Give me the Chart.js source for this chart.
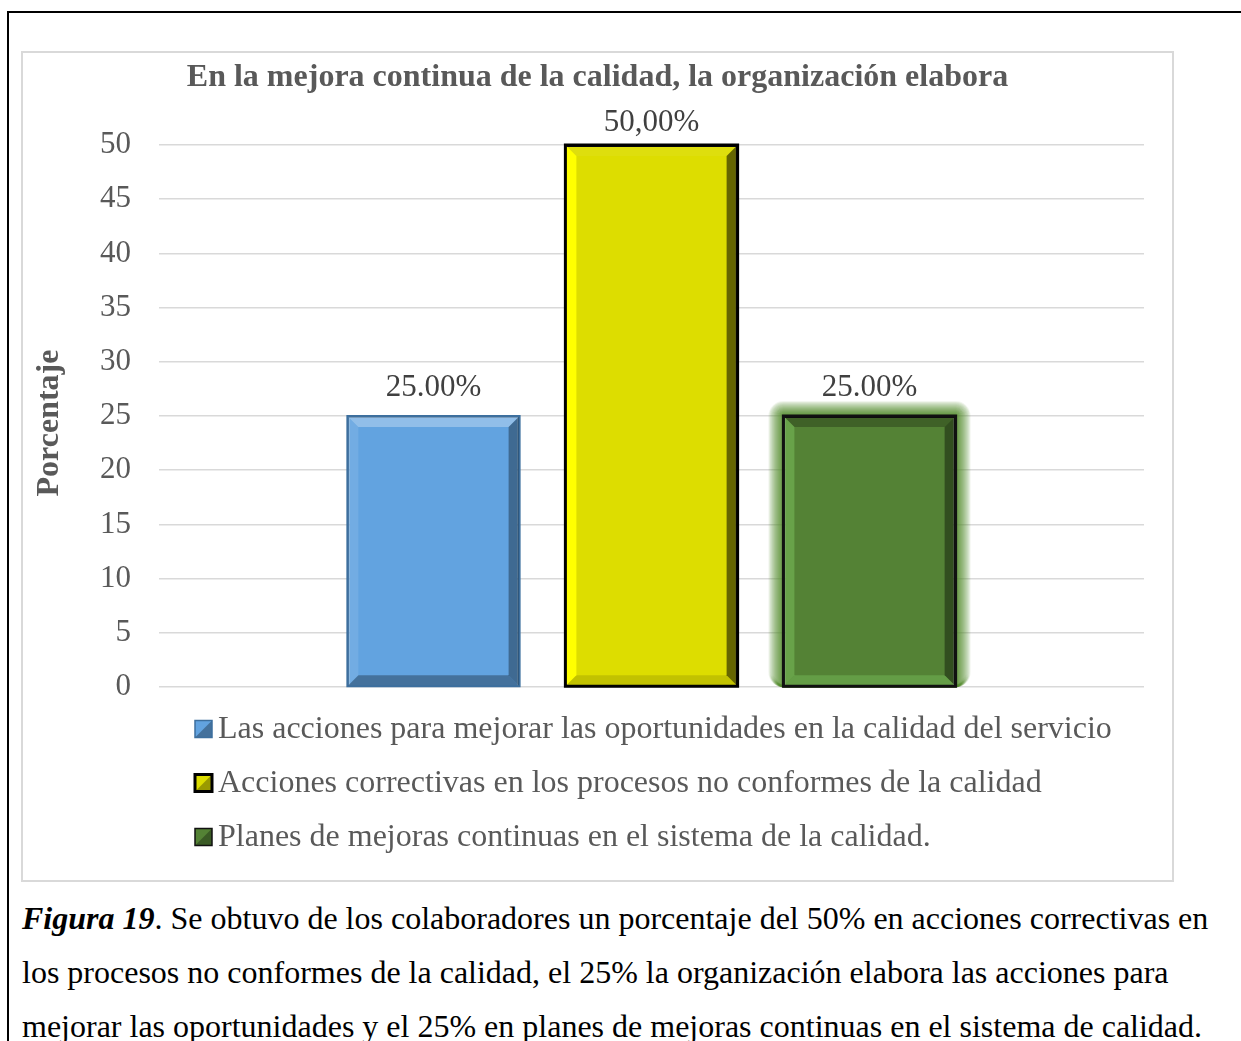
<!DOCTYPE html>
<html>
<head>
<meta charset="utf-8">
<script src="https://cdn.jsdelivr.net/npm/chart.js@4.4.0/dist/chart.umd.min.js"></script>
<style>
  body { margin: 0; background: #fff; width: 1241px; height: 1041px; overflow: hidden; position: relative; font-family: "Liberation Serif", serif; }
  #frame { position: absolute; left: 7px; top: 11px; width: 1300px; height: 1100px; border-left: 2px solid #000; border-top: 2px solid #000; }
  #box { position: absolute; left: 21px; top: 51px; width: 1149px; height: 827px; border: 2px solid #d9d9d9; }
  #box canvas { position: absolute; left: 0; top: 0; }
  #caption { position: absolute; left: 22px; top: 891px; font-size: 32px; line-height: 54px; color: #000; white-space: nowrap; }
</style>
</head>
<body>
<div id="frame"></div>
<div id="box"><canvas id="grafico" width="1149" height="827"></canvas></div>
<div id="caption"><b><i>Figura 19</i></b>. Se obtuvo de los colaboradores un porcentaje del 50% en acciones correctivas en<br>los procesos no conformes de la calidad, el 25% la organización elabora las acciones para<br>mejorar las oportunidades y el 25% en planes de mejoras continuas en el sistema de calidad.</div>
<script>
const titulo = "En la mejora continua de la calidad, la organización elabora";
const ejeY = "Porcentaje";
const categorias = [""];
const series = [
  "Las acciones para mejorar las oportunidades en la calidad del servicio",
  "Acciones correctivas en los procesos no conformes de la calidad",
  "Planes de mejoras continuas en el sistema de la calidad."
];
const valores = [25, 50, 25];
const etiquetas = ["25.00%", "50,00%", "25.00%"];

const rellenos = ["#62a3e0", "#dddd00", "#548235"];
const bordes = ["#3d6f9e", "#000000", "#111111"];
// bevel colours: top, left, right, bottom
const biseles = [
  ["rgba(255,255,255,0.30)", "rgba(255,255,255,0.10)", "rgba(0,0,0,0.35)", "rgba(0,0,0,0.30)"],
  ["rgba(255,255,255,0.05)", "rgba(255,255,0,1)", "rgba(60,60,0,0.75)", "rgba(0,0,0,0.12)"],
  ["rgba(0,0,0,0.25)", "rgba(120,190,90,0.55)", "rgba(0,0,0,0.40)", "rgba(120,190,90,0.45)"]
];
const separacion = [20, 14, 20];

const fuente = "'Liberation Serif', 'Times New Roman', serif";

const caja = (bar) => ({
  l: bar.x - bar.width / 2,
  r: bar.x + bar.width / 2,
  t: bar.y,
  b: bar.base
});

const bisel = {
  id: "bisel",
  beforeDatasetDraw(chart, args) {
    if (args.index !== 2) return;
    // soft green glow around the last bar
    const ctx = chart.ctx;
    ctx.save();
    args.meta.data.forEach((bar) => {
      const k = caja(bar);
      for (let g = 14; g >= 1; g--) {
        ctx.strokeStyle = "rgba(84,140,45," + (0.08 + (14 - g) * 0.045) + ")";
        ctx.lineWidth = 2;
        ctx.beginPath();
        ctx.roundRect(k.l - g, k.t - g, k.r - k.l + 2 * g, k.b - k.t + g, g);
        ctx.stroke();
      }
    });
    ctx.restore();
  },
  afterDatasetDraw(chart, args) {
    const ctx = chart.ctx;
    const i = args.index;
    args.meta.data.forEach((bar) => {
      const { l, r, t, b } = caja(bar);
      const s = 11;
      const c = biseles[i];
      const poly = (pts, col) => {
        ctx.beginPath();
        ctx.moveTo(pts[0][0], pts[0][1]);
        pts.slice(1).forEach((p) => ctx.lineTo(p[0], p[1]));
        ctx.closePath();
        ctx.fillStyle = col;
        ctx.fill();
      };
      ctx.save();
      poly([[l, t], [r, t], [r - s, t + s], [l + s, t + s]], c[0]);
      poly([[l, t], [l + s, t + s], [l + s, b - s], [l, b]], c[1]);
      poly([[r, t], [r, b], [r - s, b - s], [r - s, t + s]], c[2]);
      poly([[l, b], [l + s, b - s], [r - s, b - s], [r, b]], c[3]);
      ctx.strokeStyle = bordes[i];
      ctx.lineWidth = i === 0 ? 2 : 3;
      ctx.strokeRect(l, t, r - l, b - t);
      ctx.restore();
    });
  }
};

const textos = {
  id: "textos",
  afterDraw(chart) {
    const ctx = chart.ctx;
    ctx.save();
    // title
    ctx.font = "bold 32px " + fuente;
    ctx.fillStyle = "#595959";
    ctx.textAlign = "center";
    ctx.textBaseline = "middle";
    ctx.fillText(titulo, chart.width / 2, 25);
    // value labels
    ctx.font = "31px " + fuente;
    ctx.fillStyle = "#404040";
    ctx.textBaseline = "alphabetic";
    chart.data.datasets.forEach((ds, i) => {
      const bar = chart.getDatasetMeta(i).data[0];
      ctx.fillText(etiquetas[i], bar.x, bar.y - separacion[i]);
    });
    // legend
    const x0 = 172, y0 = chart.chartArea.bottom + 42, paso = 54, lado = 17;
    ctx.font = "32px " + fuente;
    ctx.textBaseline = "middle";
    ctx.textAlign = "left";
    chart.data.datasets.forEach((ds, i) => {
      const y = y0 + i * paso;
      ctx.fillStyle = rellenos[i];
      ctx.fillRect(x0, y - lado / 2, lado, lado);
      ctx.beginPath();
      ctx.moveTo(x0 + lado, y - lado / 2);
      ctx.lineTo(x0 + lado, y + lado / 2);
      ctx.lineTo(x0, y + lado / 2);
      ctx.closePath();
      ctx.fillStyle = "rgba(0,0,0,0.3)";
      ctx.fill();
      ctx.strokeStyle = bordes[i];
      ctx.lineWidth = i === 1 ? 3 : 1.5;
      ctx.strokeRect(x0, y - lado / 2, lado, lado);
      ctx.fillStyle = "#595959";
      ctx.fillText(ds.label, x0 + 23, y + 1);
    });
    // y axis title, drawn here to match its vertical position
    ctx.save();
    ctx.translate(27, chart.chartArea.top + (chart.chartArea.bottom - chart.chartArea.top) / 2 + 7);
    ctx.rotate(-Math.PI / 2);
    ctx.font = "bold 32px " + fuente;
    ctx.textAlign = "center";
    ctx.textBaseline = "middle";
    ctx.fillText(ejeY, 0, 0);
    ctx.restore();
    ctx.restore();
  }
};

new Chart(document.getElementById("grafico"), {
  type: "bar",
  data: {
    labels: categorias,
    datasets: series.map((nombre, i) => ({
      label: nombre,
      data: [valores[i]],
      backgroundColor: rellenos[i],
      borderColor: bordes[i],
      borderWidth: 2,
      categoryPercentage: 0.664,
      barPercentage: 0.79
    }))
  },
  options: {
    responsive: false,
    animation: false,
    layout: { padding: { top: 92, right: 28, bottom: 193, left: 0 } },
    plugins: {
      legend: { display: false },
      tooltip: { enabled: false },
      title: { display: false }
    },
    scales: {
      x: { display: false },
      y: {
        min: 0,
        max: 50,
        ticks: { stepSize: 5, color: "#595959", padding: 28, font: { family: fuente, size: 31 } },
        grid: { color: "#d9d9d9", lineWidth: 1.5, drawTicks: false },
        border: { display: false },
        title: { display: false },
        afterFit(scale) { scale.width = 136; }
      }
    }
  },
  plugins: [bisel, textos]
});
</script>
</body>
</html>
